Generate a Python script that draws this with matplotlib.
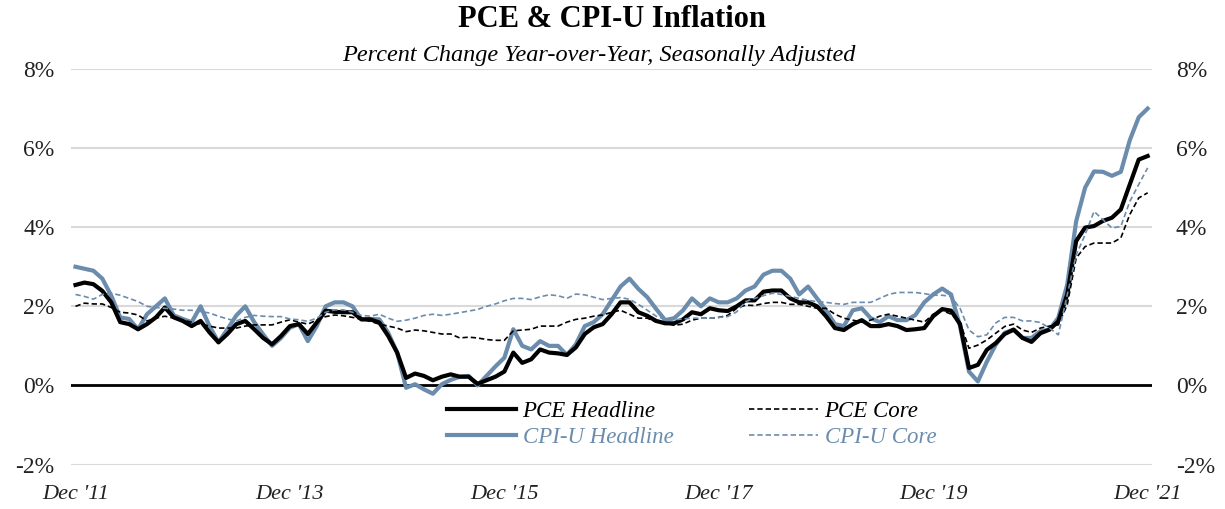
import matplotlib
matplotlib.use("Agg")
import matplotlib.pyplot as plt
import numpy as np

# Monthly, Dec 2011 .. Dec 2021 (121 points), percent YoY
cpi_headline = [3.0,
    2.95, 2.9, 2.7, 2.27, 1.72, 1.68, 1.42, 1.8, 2.0, 2.2, 1.77, 1.68,
    1.6, 2.0, 1.5, 1.09, 1.42, 1.77, 2.0, 1.6, 1.29, 1.0, 1.2, 1.46,
    1.55, 1.12, 1.5, 2.0, 2.1, 2.1, 2.0, 1.67, 1.68, 1.67, 1.33, 0.83,
    -0.06, 0.03, -0.1, -0.21, 0.03, 0.14, 0.22, 0.24, 0.0, 0.24, 0.48, 0.7,
    1.42, 1.0, 0.91, 1.12, 1.0, 1.0, 0.77, 1.04, 1.5, 1.6, 1.8, 2.15,
    2.5, 2.7, 2.44, 2.23, 1.93, 1.65, 1.7, 1.9, 2.2, 2.0, 2.2, 2.1,
    2.1, 2.2, 2.4, 2.5, 2.8, 2.9, 2.9, 2.7, 2.3, 2.5, 2.2, 1.9,
    1.55, 1.5, 1.9, 1.95, 1.7, 1.6, 1.75, 1.65, 1.65, 1.78, 2.1, 2.3,
    2.45, 2.3, 1.5, 0.35, 0.1, 0.6, 1.03, 1.33, 1.41, 1.2, 1.2, 1.37,
    1.41, 1.71, 2.55, 4.15, 5.0, 5.41, 5.4, 5.3, 5.4, 6.2, 6.78, 7.0]

pce_headline = [2.54,
    2.6, 2.56, 2.39, 2.1, 1.6, 1.55, 1.42, 1.55, 1.72, 1.97, 1.72, 1.63,
    1.5, 1.63, 1.34, 1.09, 1.3, 1.55, 1.63, 1.42, 1.2, 1.04, 1.25, 1.5,
    1.55, 1.3, 1.59, 1.89, 1.86, 1.85, 1.85, 1.67, 1.67, 1.59, 1.25, 0.83,
    0.19, 0.3, 0.24, 0.13, 0.22, 0.28, 0.22, 0.22, 0.04, 0.13, 0.22, 0.35,
    0.83, 0.57, 0.66, 0.91, 0.83, 0.81, 0.77, 0.96, 1.3, 1.47, 1.55, 1.8,
    2.1, 2.1, 1.85, 1.76, 1.63, 1.57, 1.57, 1.67, 1.85, 1.8, 1.95, 1.9,
    1.88, 2.0, 2.15, 2.15, 2.37, 2.4, 2.4, 2.2, 2.1, 2.1, 2.0, 1.75,
    1.45, 1.4, 1.55, 1.65, 1.5, 1.5, 1.55, 1.5, 1.4, 1.42, 1.45, 1.75,
    1.93, 1.89, 1.55, 0.44, 0.52, 0.9, 1.07, 1.3, 1.41, 1.2, 1.1, 1.32,
    1.41, 1.62, 2.3, 3.65, 3.99, 4.03, 4.16, 4.24, 4.45, 5.08, 5.71, 5.8]

pce_core = [2.0,
    2.08, 2.06, 2.06, 1.97, 1.85, 1.83, 1.78, 1.63, 1.7, 1.75, 1.7, 1.65,
    1.6, 1.55, 1.5, 1.45, 1.45, 1.45, 1.5, 1.53, 1.53, 1.53, 1.6, 1.66,
    1.6, 1.55, 1.65, 1.74, 1.78, 1.76, 1.72, 1.67, 1.62, 1.55, 1.5, 1.45,
    1.36, 1.4, 1.38, 1.34, 1.3, 1.3, 1.2, 1.22, 1.2, 1.16, 1.14, 1.14,
    1.38, 1.4, 1.42, 1.5, 1.5, 1.5, 1.6, 1.67, 1.7, 1.75, 1.78, 1.85,
    1.9, 1.8, 1.7, 1.7, 1.6, 1.57, 1.52, 1.55, 1.65, 1.7, 1.7, 1.72,
    1.77, 1.95, 2.03, 2.02, 2.07, 2.1, 2.1, 2.05, 2.05, 2.0, 1.95, 1.95,
    1.8, 1.7, 1.65, 1.6, 1.65, 1.75, 1.8, 1.75, 1.7, 1.65, 1.6, 1.8,
    1.9, 1.8, 1.6, 0.94, 1.02, 1.15, 1.32, 1.49, 1.55, 1.4, 1.34, 1.45,
    1.5, 1.53, 2.04, 3.22, 3.51, 3.6, 3.6, 3.6, 3.73, 4.32, 4.74, 4.87]

cpi_core = [2.3,
    2.25, 2.18, 2.3, 2.33, 2.28, 2.2, 2.12, 2.0, 1.97, 1.95, 1.93, 1.9,
    1.9, 1.87, 1.83, 1.75, 1.68, 1.63, 1.72, 1.77, 1.75, 1.74, 1.74, 1.68,
    1.66, 1.62, 1.7, 1.85, 1.91, 1.91, 1.85, 1.77, 1.75, 1.8, 1.7, 1.62,
    1.65, 1.7, 1.77, 1.8, 1.77, 1.8, 1.84, 1.88, 1.92, 2.0, 2.06, 2.14,
    2.2, 2.2, 2.17, 2.24, 2.29, 2.27, 2.2, 2.31, 2.29, 2.23, 2.17, 2.2,
    2.22, 2.18, 2.05, 1.9, 1.75, 1.67, 1.66, 1.68, 1.7, 1.7, 1.7, 1.72,
    1.74, 1.86, 2.12, 2.2, 2.27, 2.33, 2.3, 2.25, 2.2, 2.15, 2.12, 2.1,
    2.07, 2.05, 2.1, 2.1, 2.1, 2.2, 2.3, 2.35, 2.35, 2.35, 2.32, 2.28,
    2.28, 2.25, 1.95, 1.4, 1.23, 1.28, 1.58, 1.72, 1.72, 1.63, 1.63, 1.59,
    1.45, 1.28, 2.29, 3.3, 3.81, 4.4, 4.19, 3.98, 4.02, 4.65, 5.08, 5.5]

tick_positions = [0, 24, 48, 72, 96, 120]
tick_labels = ["Dec '11", "Dec '13", "Dec '15", "Dec '17", "Dec '19", "Dec '21"]
y_ticks = [-2, 0, 2, 4, 6, 8]

BLUE = '#6B8CAD'
SERIF = ['Liberation Serif', 'DejaVu Serif']
plt.rcParams['font.family'] = SERIF

fig = plt.figure(figsize=(12.25, 5.09), dpi=100)
ax = fig.add_axes([0.058, 0.0874, 0.8825, 0.777])

x = np.arange(len(cpi_headline))

for yv in [-2, 2, 4, 6, 8]:
    ax.axhline(yv, color='#d9d9d9', lw=1.5, zorder=0)
ax.axhline(0, color='black', lw=2.0, zorder=1)

ax.plot(x, pce_headline, color='black', lw=3.0, label='PCE Headline', zorder=4,
        solid_joinstyle='round')
ax.plot(x, cpi_headline, color=BLUE, lw=3.0, label='CPI-U Headline', zorder=3,
        solid_joinstyle='round')
ax.plot(x, pce_core, color='black', lw=1.2, ls=(0, (3.2, 1.8)), label='PCE Core', zorder=5)
ax.plot(x, cpi_core, color=BLUE, lw=1.2, ls=(0, (3.2, 1.8)), label='CPI-U Core', zorder=5)

ax.set_xlim(-0.5, len(x) - 0.5)
ax.set_ylim(-2, 8)
ax.set_yticks(y_ticks)
ax.set_yticklabels([f"{v}%" for v in y_ticks])
ax.set_xticks(tick_positions)
ax.set_xticklabels(tick_labels, fontstyle='italic')
ax.tick_params(axis='both', length=0, colors='#222222')
ax.tick_params(axis='x', pad=15, labelsize=16)
ax.tick_params(axis='y', pad=12, labelsize=17)
for s in ax.spines.values():
    s.set_visible(False)

# right-hand duplicate scale
axr = ax.twinx()
axr.set_ylim(ax.get_ylim())
axr.set_yticks(y_ticks)
axr.set_yticklabels([f"{v}%" for v in y_ticks])
axr.tick_params(axis='y', length=0, pad=17, labelsize=17, colors='#222222')
for s in axr.spines.values():
    s.set_visible(False)

leg = ax.legend(loc='upper center', bbox_to_anchor=(0.574, 0.213), ncol=2,
                frameon=False, prop={'family': SERIF, 'style': 'italic', 'size': 16.5},
                labelcolor='linecolor', handlelength=3.0, columnspacing=3.3,
                handletextpad=0.3, labelspacing=0.22)

fig.text(0.5, 0.962, "PCE & CPI-U Inflation", ha='center', va='center',
         fontsize=22, fontweight='bold')
fig.text(0.489, 0.89, "Percent Change Year-over-Year, Seasonally Adjusted",
         ha='center', va='center', fontsize=17.5, fontstyle='italic')

fig.savefig('out.png', dpi=100)
